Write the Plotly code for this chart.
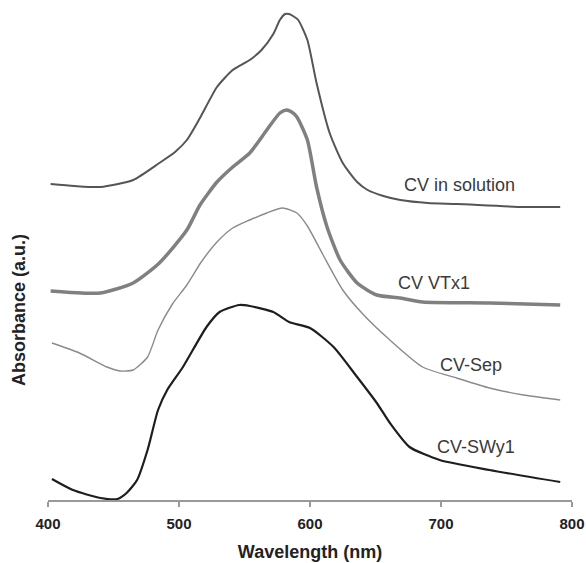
import plotly.graph_objects as go

# Wavelength (nm) and absorbance (a.u., offset traces)
wl_solution = [402, 420, 440, 465, 485, 497, 506, 516, 529, 541, 554, 563, 572, 577, 581, 584, 587, 591, 598, 605, 615, 625, 636, 644, 656, 669, 690, 712, 763, 791]
abs_solution = [3.16, 3.14, 3.13, 3.20, 3.37, 3.48, 3.60, 3.82, 4.13, 4.30, 4.40, 4.50, 4.66, 4.80, 4.86, 4.86, 4.84, 4.80, 4.60, 4.17, 3.67, 3.37, 3.18, 3.10, 3.04, 3.00, 2.97, 2.96, 2.93, 2.93]

wl_vtx1 = [402, 440, 465, 485, 506, 516, 529, 541, 554, 567, 577, 582, 586, 590, 598, 605, 613, 623, 636, 651, 669, 686, 737, 791]
abs_vtx1 = [2.09, 2.07, 2.17, 2.37, 2.70, 2.95, 3.18, 3.33, 3.47, 3.70, 3.87, 3.90, 3.88, 3.83, 3.60, 3.13, 2.73, 2.40, 2.17, 2.05, 2.02, 1.98, 1.97, 1.95]

wl_sep = [403, 424, 445, 455, 465, 476, 484, 495, 506, 517, 529, 541, 554, 567, 579, 590, 598, 610, 625, 641, 661, 686, 712, 737, 763, 791]
abs_sep = [1.57, 1.47, 1.33, 1.29, 1.30, 1.43, 1.70, 1.96, 2.15, 2.38, 2.58, 2.72, 2.80, 2.87, 2.92, 2.87, 2.74, 2.45, 2.10, 1.85, 1.60, 1.33, 1.22, 1.12, 1.05, 1.00]

wl_swy1 = [403, 419, 440, 453, 460, 468, 476, 484, 491, 503, 521, 531, 546, 554, 572, 584, 600, 618, 636, 651, 661, 676, 699, 737, 791]
abs_swy1 = [0.21, 0.10, 0.02, 0.01, 0.07, 0.20, 0.50, 0.90, 1.10, 1.33, 1.73, 1.88, 1.95, 1.94, 1.88, 1.78, 1.72, 1.53, 1.23, 0.97, 0.77, 0.53, 0.40, 0.30, 0.18]

series_names = ["CV in solution", "CV VTx1", "CV-Sep", "CV-SWy1"]
label_x = [714, 695, 723, 727]
label_y = [3.15, 2.17, 1.35, 0.53]
x_ticks = [400, 500, 600, 700, 800]

FONT = "Liberation Sans, Arial, sans-serif"

W, H = 586, 563
L, R, T, B = 48, 14, 0, 63

fig = go.Figure()
styles = [
    (wl_solution, abs_solution, "#555555", 2.0),
    (wl_vtx1, abs_vtx1, "#808080", 3.5),
    (wl_sep, abs_sep, "#8a8a8a", 1.4),
    (wl_swy1, abs_swy1, "#1e1e1e", 2.2),
]
for (x, y, c, w), name in zip(styles, series_names):
    fig.add_trace(go.Scatter(x=x, y=y, mode="lines", name=name,
                             line=dict(color=c, width=w, shape="spline", smoothing=0.6),
                             showlegend=False, hoverinfo="skip"))

for name, lx, ly in zip(series_names, label_x, label_y):
    fig.add_annotation(x=lx, y=ly, xref="x", yref="y", text=name, showarrow=False,
                       xanchor="center", yanchor="middle",
                       font=dict(family=FONT, size=18, color="#3a3a3a"))

plot_w = W - L - R
plot_h = H - T - B
fig.add_annotation(x=(19 - L) / plot_w, y=(plot_h - 310) / plot_h, xref="paper", yref="paper",
                   text="<b>Absorbance (a.u.)</b>", showarrow=False, textangle=-90,
                   xanchor="center", yanchor="middle",
                   font=dict(family=FONT, size=18, color="#222222"))

fig.update_layout(
    width=W, height=H,
    margin=dict(l=L, r=R, t=T, b=B),
    paper_bgcolor="white", plot_bgcolor="white",
    font=dict(family=FONT, color="#222222"),
    xaxis=dict(range=[400, 800], tickvals=x_ticks, ticktext=[f"<b>{t}</b>" for t in x_ticks],
               showgrid=False, zeroline=False, showline=True, linecolor="#999999", linewidth=1.5,
               ticks="outside", ticklen=5, tickcolor="#999999", tickwidth=1.5,
               ticklabelstandoff=4,
               tickfont=dict(family=FONT, size=15, color="#222222"),
               title=dict(text="<b>Wavelength (nm)</b>", font=dict(family=FONT, size=18, color="#222222"), standoff=15)),
    yaxis=dict(range=[0, 5], showgrid=False, zeroline=False, showline=False, showticklabels=False, ticks=""),
)

fig.write_html("out.html", config={"displayModeBar": False},
               post_script="document.body.style.margin='0px';document.body.style.overflow='hidden';")
